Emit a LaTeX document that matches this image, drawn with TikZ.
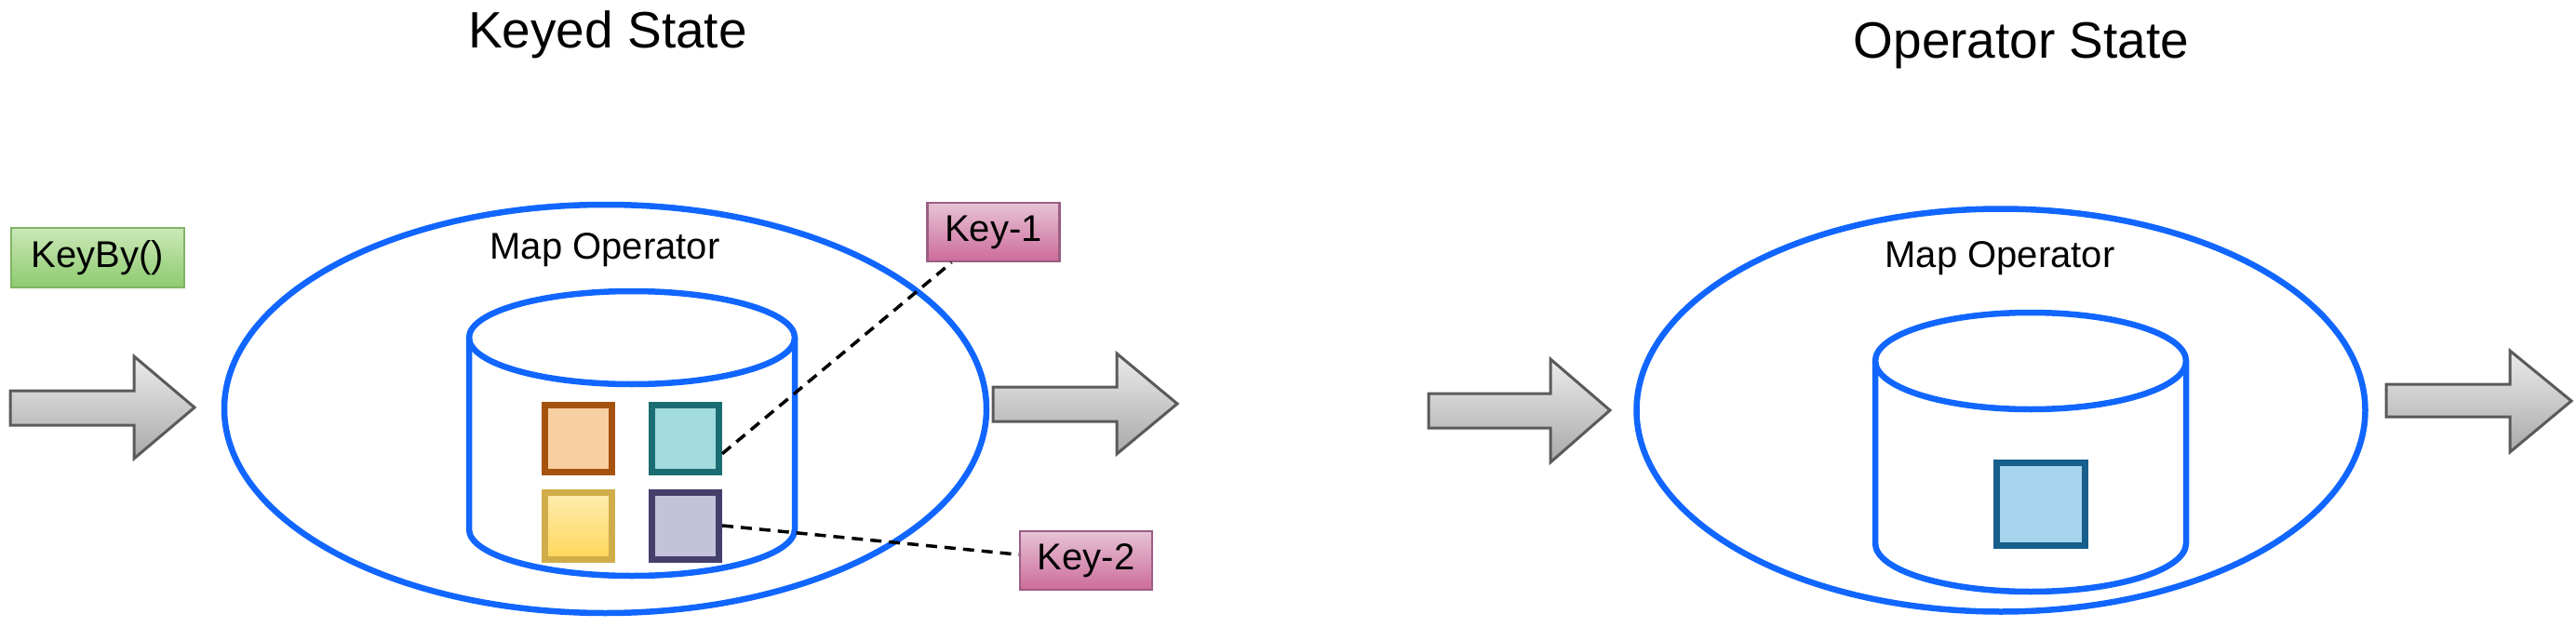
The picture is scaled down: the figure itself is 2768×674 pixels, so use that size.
\documentclass[tikz,border=0pt]{standalone}
\usepackage{fontspec}
\setmainfont{Liberation Sans}
\usetikzlibrary{shapes.geometric,calc}
\definecolor{opblue}{HTML}{1166FF}
\definecolor{arrline}{HTML}{5A5A5A}
\definecolor{arrtop}{HTML}{EBEBEB}
\definecolor{arrbot}{HTML}{A9A9A9}
\definecolor{grtop}{HTML}{CBE8B8}
\definecolor{grbot}{HTML}{8DCB6E}
\definecolor{grline}{HTML}{82B366}
\definecolor{pktop}{HTML}{E6C3D6}
\definecolor{pkbot}{HTML}{CD6B98}
\definecolor{pkline}{HTML}{9B5E85}
\definecolor{orfill}{HTML}{F8CFA0}
\definecolor{orline}{HTML}{A5520E}
\definecolor{tefill}{HTML}{A3DCDE}
\definecolor{teline}{HTML}{1A6E73}
\definecolor{yetop}{HTML}{FFEDB0}
\definecolor{yebot}{HTML}{FFD75A}
\definecolor{yeline}{HTML}{D0AD4A}
\definecolor{pufill}{HTML}{C4C2DA}
\definecolor{puline}{HTML}{453F6B}
\definecolor{blfill}{HTML}{A5D4EC}
\definecolor{blline}{HTML}{175E8C}
\newcommand\blockarrow[8]{%
  \path[blockarr] (#1,#4) -- (#2,#4) -- (#2,#6) -- (#3,#8) -- (#2,#7) -- (#2,#5) -- (#1,#5) -- cycle;}
\begin{document}
\begin{tikzpicture}[x=1pt,y=-1pt,
  opellipse/.style={ellipse, draw=opblue, line width=6.5pt, inner sep=0pt},
  cylline/.style={draw=opblue, line width=6.5pt},
  stbox/.style={rectangle, line width=7pt, inner sep=0pt, minimum size=72pt},
  lbl/.style={font=\fontsize{40}{48}\selectfont, inner sep=0pt},
  ttl/.style={font=\fontsize{55}{66}\selectfont, inner sep=0pt, anchor=base},
  keybox/.style={rectangle, draw=pkline, top color=pktop, bottom color=pkbot, line width=2.5pt,
     inner sep=0pt, minimum width=142pt, minimum height=63pt, font=\fontsize{40}{48}\selectfont},
  blockarr/.style={draw=arrline, line width=3pt, top color=arrtop, bottom color=arrbot},
  dashline/.style={draw=black, line width=3.5pt, dash pattern=on 12pt off 8pt}]
\useasboundingbox (0,0) rectangle (2768,674);

% titles
\node[ttl] (t1) at (653,52) {Keyed State};
\node[ttl] (t2) at (2172,63) {Operator State};

% KeyBy box
\node[rectangle, draw=grline, top color=grtop, bottom color=grbot, line width=2.5pt,
  inner sep=0pt, minimum width=186pt, minimum height=64pt, lbl] (keyby) at (105,277) {KeyBy()};

% left operator
\node[opellipse, minimum width=819pt, minimum height=439pt] (op1) at (650.5,439.5) {};
\node[lbl, anchor=base] (mo1) at (650,278) {Map Operator};
\draw[cylline] (504,363) -- (504,569) arc[start angle=180, end angle=0, x radius=175, y radius=50] -- (854,363);
\draw[cylline] (679,363) ellipse [x radius=175, y radius=50];

\node[stbox, draw=orline, fill=orfill] (sq1) at (621.5,471) {};
\node[stbox, draw=teline, fill=tefill] (sq2) at (736.5,471) {};
\node[stbox, draw=yeline, top color=yetop, bottom color=yebot] (sq3) at (621.5,565) {};
\node[stbox, draw=puline, fill=pufill] (sq4) at (736.5,565) {};

\node[keybox] (key1) at (1067.5,249.5) {Key-1};
\node[keybox] (key2) at (1167,602.5) {Key-2};

% right operator
\node[opellipse, minimum width=783pt, minimum height=433pt] (op2) at (2150,441) {};
\node[lbl, anchor=base] (mo2) at (2149,287) {Map Operator};
\draw[cylline] (2015,388) -- (2015,584) arc[start angle=180, end angle=0, x radius=167, y radius=52] -- (2349,388);
\draw[cylline] (2182,388) ellipse [x radius=167, y radius=52];
\node[rectangle, line width=7pt, inner sep=0pt, minimum width=95pt, minimum height=89pt,
  draw=blline, fill=blfill] (sq5) at (2193,542) {};

% block arrows
\blockarrow{11}{144}{209}{420}{457}{383}{493}{438}
\blockarrow{1067}{1200}{1265}{416}{453}{380}{488}{434}
\blockarrow{1535}{1666}{1730}{423}{460}{386}{497}{441}
\blockarrow{2564}{2697}{2763}{413}{448}{377}{486}{431}

% dashed connectors
\draw[dashline] (sq2.-23) -- (key1.-144);
\draw[dashline] (sq4.east) -- (key2.175);
\end{tikzpicture}
\end{document}
